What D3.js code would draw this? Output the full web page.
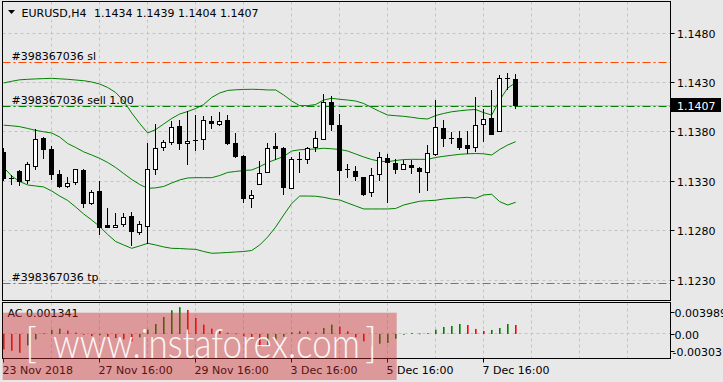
<!DOCTYPE html>
<html><head><meta charset="utf-8">
<script src="https://cdn.jsdelivr.net/npm/d3@7"></script>
<style>
html,body{margin:0;padding:0;background:#e8e8e8;overflow:hidden}
text{font-family:"DejaVu Sans",sans-serif;font-size:11px;fill:#000}
.wm{font-family:Lato,Roboto,"Open Sans",sans-serif;font-size:41px;font-weight:300;fill:#fff}
</style>
</head><body>
<svg id="c" width="723" height="382"></svg>
<script>
// ---------- DATA ----------
const symbolTitle = "EURUSD,H4";
const titleValues = "1.1434 1.1439 1.1404 1.1407";
const opens  = [1.1360,1.1333,1.1340,1.1331,1.1346,1.1374,1.1363,1.1337,1.1325,1.1329,
                1.1341,1.1308,1.1320,1.1286,1.1284,1.1287,1.1295,1.1279,1.1285,1.1342,
                1.1365,1.1370,1.1386,1.1369,1.1372,1.1373,1.1391,1.1388,1.1392,1.1369,
                1.1356,1.1313,1.1327,1.1339,1.1366,1.1364,1.1323,1.1353,1.1353,1.1365,
                1.1373,1.1410,1.1387,1.1342,1.1340,1.1334,1.1319,1.1337,1.1354,1.1349,
                1.1342,1.1347,1.1344,1.1339,1.1358,1.1384,1.1374,1.1374,1.1367,1.1365,
                1.1388,1.1394,1.1381,1.1435,1.1434];
const highs  = [1.1364,1.1336,1.1341,1.1350,1.1383,1.1375,1.1366,1.1341,1.1334,1.1343,
                1.1343,1.1321,1.1330,1.1303,1.1298,1.1298,1.1299,1.1290,1.1369,1.1388,
                1.1372,1.1391,1.1392,1.1401,1.1397,1.1396,1.1396,1.1400,1.1397,1.1379,
                1.1357,1.1321,1.1351,1.1369,1.1379,1.1365,1.1355,1.1360,1.1365,1.1381,
                1.1419,1.1416,1.1398,1.1348,1.1346,1.1334,1.1344,1.1360,1.1358,1.1353,
                1.1352,1.1352,1.1345,1.1367,1.1412,1.1392,1.1380,1.1381,1.1381,1.1415,
                1.1403,1.1423,1.1438,1.1440,1.1439];
const lows   = [1.1331,1.1327,1.1326,1.1328,1.1343,1.1354,1.1332,1.1324,1.1324,1.1327,
                1.1304,1.1307,1.1277,1.1284,1.1284,1.1285,1.1265,1.1277,1.1267,1.1337,
                1.1362,1.1368,1.1363,1.1348,1.1362,1.1363,1.1384,1.1387,1.1368,1.1355,
                1.1309,1.1304,1.1327,1.1339,1.1353,1.1317,1.1323,1.1339,1.1349,1.1361,
                1.1373,1.1382,1.1317,1.1334,1.1331,1.1316,1.1315,1.1331,1.1309,1.1338,
                1.1342,1.1338,1.1319,1.1321,1.1357,1.1366,1.1369,1.1363,1.1359,1.1361,
                1.1371,1.1378,1.1381,1.1424,1.1404];
const closes = [1.1333,1.1333,1.1330,1.1348,1.1373,1.1363,1.1337,1.1325,1.1328,1.1342,
                1.1308,1.1319,1.1284,1.1284,1.1286,1.1294,1.1280,1.1287,1.1343,1.1364,
                1.1370,1.1385,1.1369,1.1371,1.1372,1.1392,1.1389,1.1391,1.1369,1.1356,
                1.1313,1.1316,1.1338,1.1364,1.1364,1.1324,1.1353,1.1353,1.1364,1.1374,
                1.1410,1.1388,1.1341,1.1342,1.1335,1.1317,1.1336,1.1355,1.1350,1.1343,
                1.1348,1.1345,1.1340,1.1359,1.1385,1.1374,1.1374,1.1365,1.1364,1.1387,
                1.1393,1.1378,1.1435,1.1435,1.1407];
const bbUpper = [1.14297,1.14314,1.14329,1.14334,1.14338,1.14341,1.14344,1.14339,1.14334,1.14327,
                 1.14320,1.14307,1.14286,1.14251,1.14200,1.14114,1.13993,1.13886,1.13790,1.13825,
                 1.13881,1.13937,1.13982,1.14008,1.14038,1.14079,1.14150,1.14195,1.14221,1.14228,
                 1.14231,1.14233,1.14231,1.14226,1.14226,1.14175,1.14114,1.14067,1.14067,1.14079,
                 1.14124,1.14142,1.14131,1.14124,1.14114,1.14089,1.14048,1.14008,1.13972,1.13965,
                 1.13959,1.13949,1.13937,1.13932,1.13967,1.13988,1.14005,1.14015,1.14023,1.14028,
                 1.13996,1.13972,1.14124,1.14246,1.14300];
const bbMiddle = [1.13869,1.13863,1.13854,1.13836,1.13817,1.13802,1.13790,1.13749,1.13683,1.13643,
                  1.13599,1.13567,1.13533,1.13491,1.13440,1.13379,1.13319,1.13268,1.13229,1.13234,
                  1.13248,1.13283,1.13314,1.13334,1.13337,1.13337,1.13337,1.13359,1.13390,1.13400,
                  1.13410,1.13415,1.13448,1.13491,1.13521,1.13552,1.13607,1.13620,1.13624,1.13628,
                  1.13635,1.13630,1.13623,1.13607,1.13577,1.13547,1.13521,1.13504,1.13499,1.13511,
                  1.13521,1.13523,1.13523,1.13523,1.13542,1.13554,1.13564,1.13574,1.13579,1.13582,
                  1.13579,1.13567,1.13623,1.13668,1.13702];
const bbLower = [1.13440,1.13354,1.13298,1.13263,1.13253,1.13243,1.13202,1.13151,1.13106,1.13040,
                 1.12969,1.12908,1.12842,1.12761,1.12690,1.12655,1.12621,1.12645,1.12672,1.12655,
                 1.12635,1.12621,1.12619,1.12614,1.12611,1.12589,1.12571,1.12574,1.12579,1.12584,
                 1.12589,1.12599,1.12655,1.12736,1.12837,1.12959,1.13075,1.13151,1.13151,1.13149,
                 1.13138,1.13121,1.13111,1.13080,1.13050,1.13020,1.13020,1.13020,1.13020,1.13025,
                 1.13060,1.13080,1.13098,1.13104,1.13108,1.13121,1.13128,1.13133,1.13138,1.13128,
                 1.13162,1.13169,1.13094,1.13060,1.13088];
const acValues = [-0.0023,-0.0025,-0.0028,-0.0017,-0.0008,0.0001,0.0006,0.0008,0.0005,0.0002,
                  -0.0001,-0.0003,-0.0002,-0.0004,-0.0006,-0.0008,-0.0011,-0.0005,0.00064,0.00149,
                  0.00253,0.00353,0.003989,0.00358,0.00238,0.00139,0.00079,0.00049,0.00018,0.00008,
                  -0.00034,-0.0008,-0.0019,-0.00183,-0.00109,-0.0004,0.00025,0.0004,0.00037,0.0002,
                  0.0009,0.00139,0.00109,0.0004,-0.00049,-0.00109,-0.00183,-0.00145,-0.00134,-0.0007,
                  -0.00003,0.00012,0.00008,0.00011,0.00064,0.00104,0.00119,0.00149,0.00134,0.00075,
                  0.00045,0.0006,0.00089,0.00149,0.001341];
const acBefore = -0.0020;           // bar just left of the window (sets first bar colour)
const acLabel = "AC 0.001341";
const acAxisLabels = ["0.003989","0.00","-0.00303"];
const priceTicks = [1.1480,1.1430,1.1380,1.1330,1.1280,1.1230];
const lastPrice = 1.1407;
const orderLines = [
  {label:"#398367036 sl", price:1.1450, kind:"sl"},
  {label:"#398367036 sell 1.00", price:1.1407, kind:"open"},
  {label:"#398367036 tp", price:1.1226, kind:"tp"}
];
const timeTickIndex = [0,12,24,36,48,60];
const timeTickLabels = ["23 Nov 2018","27 Nov 16:00","29 Nov 16:00","3 Dec 16:00","5 Dec 16:00","7 Dec 16:00"];
const watermark = "www.instaforex.com";

// ---------- LAYOUT ----------
const L=2.5, R=670.5, T=1.5, B=300.5, ST=302.5, SB=358.5;
const GRID="#c4c4c4";
const svg = d3.select("#c");
const x  = d3.scaleLinear().domain([0,64]).range([3.7,515.7]);
const y  = d3.scaleLinear().domain([1.1230,1.1480]).range([280,33.33]);
const ya = d3.scaleLinear().domain([-0.00303,0.003989]).range([354.3,307.2]);
const col = i => Math.floor(x(i));
const py = v => Math.round(y(v));

svg.append("rect").attr("width",723).attr("height",382).attr("fill","#e8e8e8");

svg.append("clipPath").attr("id","mainclip").append("rect")
  .attr("x",L).attr("y",T).attr("width",R-L).attr("height",B-T);
svg.append("clipPath").attr("id","subclip").append("rect")
  .attr("x",L).attr("y",ST).attr("width",R-L).attr("height",SB-ST);

const main = svg.append("g").attr("clip-path","url(#mainclip)");
const sub  = svg.append("g").attr("clip-path","url(#subclip)");

// grid
d3.range(6, 84, 6).forEach(i=>{
  const gx = col(i)+0.5;
  main.append("line").attr("x1",gx).attr("x2",gx).attr("y1",T).attr("y2",B)
    .attr("stroke",GRID).attr("stroke-dasharray","3,3");
  sub.append("line").attr("x1",gx).attr("x2",gx).attr("y1",ST).attr("y2",SB)
    .attr("stroke",GRID).attr("stroke-dasharray","3,3");
});
priceTicks.forEach(p=>{
  const gy = Math.floor(y(p))+0.5;
  main.append("line").attr("x1",L).attr("x2",R).attr("y1",gy).attr("y2",gy)
    .attr("stroke",GRID).attr("stroke-dasharray","3,3");
});
sub.append("line").attr("x1",L).attr("x2",R).attr("y1",Math.floor(ya(0))+0.5).attr("y2",Math.floor(ya(0))+0.5)
  .attr("stroke",GRID).attr("stroke-dasharray","3,3");

// bid line
main.append("line").attr("x1",L).attr("x2",R)
  .attr("y1",Math.floor(y(lastPrice))+0.5).attr("y2",Math.floor(y(lastPrice))+0.5)
  .attr("stroke","#c0c0c0");

// Bollinger bands
const bandLine = d3.line().x((d,i)=>x(i)).y(d=>y(d));
[bbUpper,bbMiddle,bbLower].forEach(arr=>{
  main.append("path").attr("d",bandLine(arr)).attr("fill","none")
    .attr("stroke","#008000").attr("stroke-width",1);
});

// order lines
orderLines.forEach(o=>{
  const oy = Math.floor(y(o.price)) + (o.kind==="open"?1.5:0.5);
  main.append("line").attr("x1",L).attr("x2",R).attr("y1",oy).attr("y2",oy)
    .attr("stroke", o.kind==="open" ? "#008000" : "#ff4500")
    .attr("stroke-width", 1.2)
    .attr("stroke-dasharray","8,3,2,3");
  main.append("text").attr("x",11.5).attr("y",oy-3).text(o.label);
});

// candles
const cg = main.append("g");
opens.forEach((o,i)=>{
  const h=highs[i], l=lows[i], c=closes[i];
  const cx = col(i);
  cg.append("line").attr("x1",cx+0.5).attr("x2",cx+0.5)
    .attr("y1",py(h)).attr("y2",py(l)+1).attr("stroke","#000");
  const top = py(Math.max(o,c)), bot = py(Math.min(o,c));
  if (bot-top < 1) {
    cg.append("line").attr("x1",cx-2).attr("x2",cx+3).attr("y1",top+0.5).attr("y2",top+0.5)
      .attr("stroke","#000");
  } else {
    cg.append("rect").attr("x",cx-1.5).attr("y",top+0.5).attr("width",4).attr("height",bot-top)
      .attr("fill", c>o ? "#ffffff" : "#000000").attr("stroke","#000");
  }
});

// AC histogram
acValues.forEach((v,i)=>{
  const prev = i===0 ? acBefore : acValues[i-1];
  const cx = col(i);
  sub.append("rect").attr("x",cx).attr("width",1.6)
    .attr("y", Math.min(ya(v),ya(0))).attr("height", Math.max(0.8,Math.abs(ya(v)-ya(0))))
    .attr("fill", v>prev ? "#008000" : "#ff0000");
});

// frames
svg.append("rect").attr("x",L).attr("y",T).attr("width",R-L).attr("height",B-T)
  .attr("fill","none").attr("stroke","#000");
svg.append("rect").attr("x",L).attr("y",ST).attr("width",R-L).attr("height",SB-ST)
  .attr("fill","none").attr("stroke","#000");

// title
svg.append("path").attr("d","M8,10 L15,10 L11.5,14 Z").attr("fill","#000");
svg.append("text").attr("x",21.5).attr("y",17).text(symbolTitle);
svg.append("text").attr("x",94).attr("y",17).text(titleValues);

// price axis
priceTicks.forEach(p=>{
  const gy = Math.floor(y(p))+0.5;
  svg.append("line").attr("x1",R).attr("x2",R+4).attr("y1",gy).attr("y2",gy).attr("stroke","#000");
  svg.append("text").attr("x",677).attr("y",y(p)+4.5).text(d3.format(".4f")(p));
});
svg.append("rect").attr("x",671).attr("y",Math.round(y(lastPrice))-7).attr("width",50).attr("height",14).attr("fill","#000");
svg.append("text").attr("x",677).attr("y",y(lastPrice)+4.5).style("fill","#fff").text(d3.format(".4f")(lastPrice));

// AC axis
const acLabelY = [312.7, 334, 351];
acAxisLabels.forEach((t,k)=>{
  svg.append("line").attr("x1",R).attr("x2",R+4).attr("y1",Math.floor(acLabelY[k])+0.5).attr("y2",Math.floor(acLabelY[k])+0.5).attr("stroke","#000");
  svg.append("text").attr("x", t.startsWith("-")?672.5:674.5).attr("y",acLabelY[k]+4.5).text(t);
});
svg.append("text").attr("x",7.5).attr("y",317).text(acLabel);

// time axis
timeTickIndex.forEach((i,k)=>{
  const tx = col(i)+0.5;
  svg.append("line").attr("x1",tx).attr("x2",tx).attr("y1",SB).attr("y2",SB+4).attr("stroke","#000");
  svg.append("text").attr("x",tx-1).attr("y",373.5).text(timeTickLabels[k]);
});

// watermark
svg.append("rect").attr("x",2.7).attr("y",312.7).attr("width",394).attr("height",67.3)
  .attr("fill","rgb(205,40,45)").attr("fill-opacity",0.42);
const wm = svg.append("g").style("opacity",0.92);
wm.append("text").attr("class","wm").attr("x",25).attr("y",358.3).text("[");
wm.append("text").attr("class","wm").attr("x",53).attr("y",358.3)
  .attr("textLength",307).attr("lengthAdjust","spacingAndGlyphs").text(watermark);
wm.append("text").attr("class","wm").attr("x",365).attr("y",358.3).text("]");
</script>
</body></html>
